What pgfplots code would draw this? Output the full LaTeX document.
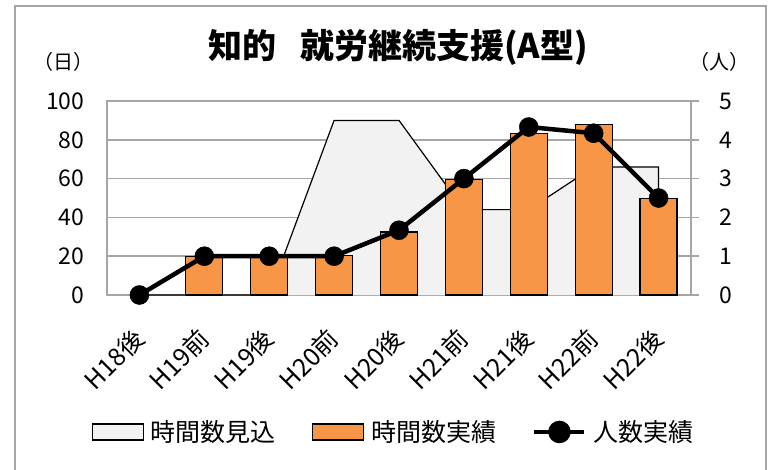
\documentclass[border=0pt]{standalone}
\usepackage{pgfplots}
\pgfplotsset{compat=1.18}
\usepackage{graphicx}
\usepackage{fontspec}
\setmainfont{Noto Sans CJK JP}
\definecolor{barorange}{HTML}{F79646}
\definecolor{areagray}{HTML}{F2F2F2}
\definecolor{gridgray}{HTML}{A6A6A6}
\newcommand{\rl}[1]{\rotatebox{45}{#1}}
\begin{document}
\begin{tikzpicture}
\useasboundingbox (0,0) rectangle (769pt,-469pt);
\fill[white] (0,0) rectangle (769pt,-469pt);
\draw[gridgray, line width=1.5pt] (15pt,-6pt) rectangle (766pt,-480pt);
\node[font=\fontsize{34}{36}\selectfont\bfseries] at (398pt,-47pt) {知的\hspace{0.7em}就労継続支援(A型)};
\node[font=\fontsize{20}{22}\selectfont] at (63pt,-62pt) {（日）};
\node[font=\fontsize{20}{22}\selectfont] at (719pt,-62pt) {（人）};
\begin{axis}[
  at={(107pt,-295pt)}, anchor=south west,
  scale only axis, width=584pt, height=194pt,
  xmin=-0.5, xmax=8.5, ymin=0, ymax=100,
  axis line style={gridgray, line width=1.5pt},
  ytick={0,20,...,100},
  ymajorgrids, major grid style={gridgray, line width=1.5pt},
  major tick length=0pt,
  xtick={0,...,8},
  xticklabels={\rl{H18後},\rl{H19前},\rl{H19後},\rl{H20前},\rl{H20後},\rl{H21前},\rl{H21後},\rl{H22前},\rl{H22後}},
  xticklabel style={anchor=north east, inner sep=0pt, font=\fontsize{25}{27}\selectfont, yshift=-31pt, xshift=8pt},
  yticklabel style={font=\fontsize{23}{26}\selectfont, xshift=-19pt},
  /pgf/number format/assume math mode=true,
  clip=false,
]
\addplot[fill=areagray, draw=none] coordinates {(0,0) (1,0) (2,0) (3,90) (4,90) (5,44) (6,44) (7,66) (8,66)} \closedcycle;
\addplot[black, line width=1.2pt] coordinates {(0,0) (1,0) (2,0) (3,90) (4,90) (5,44) (6,44) (7,66) (8,66) (8,0)};
\addplot[ybar, bar width=0.57, fill=barorange, draw=black, line width=1.3pt] coordinates {(1,20) (2,20) (3,20.5) (4,32.5) (5,59.5) (6,83.3) (7,87.8) (8,49.8)};
\end{axis}
\begin{axis}[
  at={(107pt,-295pt)}, anchor=south west,
  scale only axis, width=584pt, height=194pt,
  xmin=-0.5, xmax=8.5, ymin=0, ymax=5,
  axis x line=none, axis y line*=right,
  y axis line style={gridgray, line width=1.5pt},
  ytick={0,...,5},
  tick align=outside, major tick length=8pt,
  tick style={gridgray, line width=1.5pt},
  yticklabel style={font=\fontsize{23}{26}\selectfont, xshift=17pt},
  /pgf/number format/assume math mode=true,
  clip=false,
  legend columns=3,
  legend style={draw=none, fill=none, at={(0.491,-0.706)}, anchor=center,
    font=\fontsize{25}{28}\selectfont,
    /tikz/every odd column/.append style={column sep=5pt},
    /tikz/every even column/.append style={column sep=34pt}},
]
\addlegendimage{legend image code/.code={\draw[fill=areagray, draw=black, line width=1.2pt] (0pt,-8pt) rectangle (51pt,8pt);}}
\addlegendentry{時間数見込}
\addlegendimage{legend image code/.code={\draw[fill=barorange, draw=black, line width=1.2pt] (0pt,-8pt) rectangle (51pt,8pt);}}
\addlegendentry{時間数実績}
\addplot[black, line width=4.5pt, mark=*, mark size=9.5pt, mark options={line width=0.5pt},
  legend image code/.code={\draw[black, line width=4.5pt] (0pt,0pt) -- (50pt,0pt); \fill[black] (25pt,0pt) circle (9pt);}]
  coordinates {(0,0) (1,1) (2,1) (3,1) (4,1.67) (5,3) (6,4.33) (7,4.17) (8,2.5)};
\addlegendentry{人数実績}
\end{axis}
\end{tikzpicture}
\end{document}
